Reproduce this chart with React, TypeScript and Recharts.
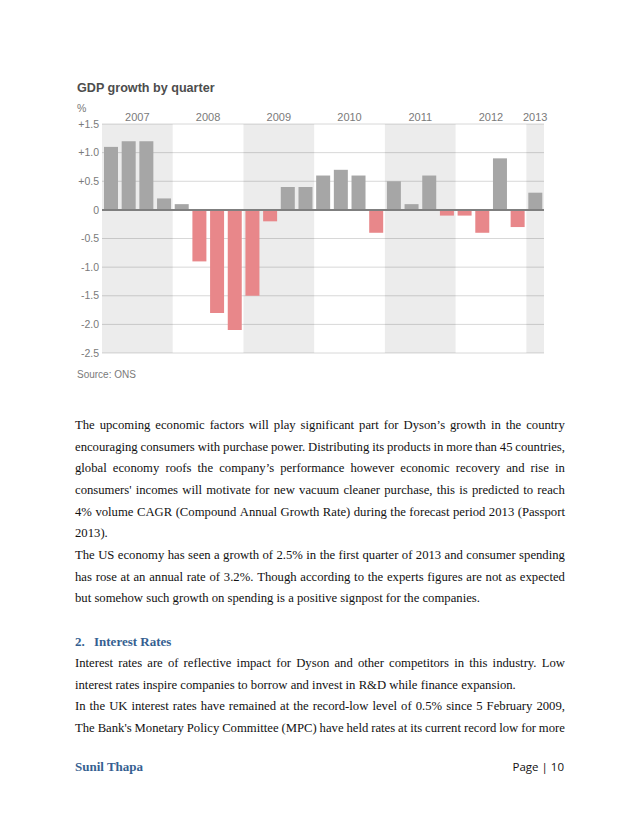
import React from "react";
import {
  BarChart,
  Bar,
  XAxis,
  YAxis,
  CartesianGrid,
  ReferenceArea,
  ReferenceLine,
  Cell,
} from "recharts";

// GDP growth by quarter (%)
const quarters = [
  "2007 Q1", "2007 Q2", "2007 Q3", "2007 Q4",
  "2008 Q1", "2008 Q2", "2008 Q3", "2008 Q4",
  "2009 Q1", "2009 Q2", "2009 Q3", "2009 Q4",
  "2010 Q1", "2010 Q2", "2010 Q3", "2010 Q4",
  "2011 Q1", "2011 Q2", "2011 Q3", "2011 Q4",
  "2012 Q1", "2012 Q2", "2012 Q3", "2012 Q4",
  "2013 Q1",
];
const growth = [
  1.1, 1.2, 1.2, 0.2,
  0.1, -0.9, -1.8, -2.1,
  -1.5, -0.2, 0.4, 0.4,
  0.6, 0.7, 0.6, -0.4,
  0.5, 0.1, 0.6, -0.1,
  -0.1, -0.4, 0.9, -0.3,
  0.3,
];
const years = ["2007", "2008", "2009", "2010", "2011", "2012", "2013"];
const quartersPerYear = [4, 4, 4, 4, 4, 4, 1];
const shadedYears = ["2007", "2009", "2011", "2013"];
const yTicks = [1.5, 1, 0.5, 0, -0.5, -1, -1.5, -2, -2.5];

const paragraphOne = [
  "The upcoming economic factors will play significant part for Dyson\u2019s growth in the country",
  "encouraging consumers with purchase power. Distributing its products in more than 45 countries,",
  "global economy roofs the company\u2019s performance however economic recovery and rise in",
  "consumers' incomes will motivate for new vacuum cleaner purchase, this is predicted to reach",
  "4% volume CAGR (Compound Annual Growth Rate) during the forecast period 2013 (Passport",
  "2013).",
  "The US economy has seen a growth of 2.5% in the first quarter of 2013 and consumer spending",
  "has rose at an annual rate of 3.2%. Though according to the experts figures are not as expected",
  "but somehow such growth on spending is a positive signpost for the companies.",
];
const paragraphOneLast = [5, 8];

const paragraphTwo = [
  "Interest rates are of reflective impact for Dyson and other competitors in this industry. Low",
  "interest rates inspire companies to borrow and invest in R&D while finance expansion.",
  "In the UK interest rates have remained at the record-low level of 0.5% since 5 February 2009,",
  "The Bank's Monetary Policy Committee (MPC) have held rates at its current record low for more",
];
const paragraphTwoLast = [1];

// pos = middle of each quarter's slot on a 0..n scale, used by the year axis
const data = quarters.map((q, i) => ({ q, v: growth[i], pos: i + 0.5 }));
const totalQuarters = quarters.length;

const yearStarts = quartersPerYear.map((_, i) =>
  quartersPerYear.slice(0, i).reduce((a, b) => a + b, 0)
);
const yearCenters = yearStarts.map((s, i) => s + quartersPerYear[i] / 2);

const fmtY = (v: number) => (v > 0 ? "+" + v.toFixed(1) : v === 0 ? "0" : v.toFixed(1));

const LINE_H = 21.65;
const serif = "'Liberation Serif', 'Times New Roman', serif";
const sans = "'Liberation Sans', Arial, sans-serif";

function TextLine({ text, top, last }: { text: string; top: number; last: boolean }) {
  const base: React.CSSProperties = {
    position: "absolute",
    left: 75,
    width: 490,
    top: top - LINE_H / 2,
    height: LINE_H,
    lineHeight: LINE_H + "px",
    fontFamily: serif,
    fontSize: 12.7,
    color: "#111",
    whiteSpace: "nowrap",
  };
  if (last) return <div style={base}>{text}</div>;
  // justified line: spread the words over the full width
  return (
    <div style={{ ...base, display: "flex", justifyContent: "space-between", columnGap: 2.5 }}>
      {text.split(" ").map((w, i) => (
        <span key={i}>{w}</span>
      ))}
    </div>
  );
}

export default function App() {
  return (
    <div
      style={{
        position: "absolute",
        left: 0,
        top: 0,
        width: 638,
        height: 826,
        background: "#fff",
        overflow: "hidden",
      }}
    >
      <div
        style={{
          position: "absolute",
          left: 77,
          top: 81,
          fontFamily: sans,
          fontWeight: 700,
          fontSize: 12.6,
          color: "#4d4d4d",
        }}
      >
        GDP growth by quarter
      </div>
      <div
        style={{
          position: "absolute",
          left: 77,
          top: 102,
          fontFamily: sans,
          fontSize: 10.5,
          color: "#777",
        }}
      >
        %
      </div>

      <div style={{ position: "absolute", left: 0, top: 0 }}>
        <BarChart
          width={638}
          height={380}
          data={data}
          margin={{ top: 104, right: 94, bottom: 27, left: 62 }}
          barSize={14}
        >
          <XAxis xAxisId="q" dataKey="q" hide />
          <XAxis
            xAxisId="yr"
            dataKey="pos"
            type="number"
            domain={[0, totalQuarters]}
            allowDataOverflow
            orientation="top"
            ticks={yearCenters}
            tickFormatter={(v: number) => years[yearCenters.indexOf(v)]}
            height={20}
            axisLine={false}
            tickLine={false}
            tickSize={0}
            tickMargin={3}
            interval={0}
            tick={{ fill: "#7a7a7a", fontSize: 11, fontFamily: sans }}
          />
          <YAxis
            domain={[-2.5, 1.5]}
            ticks={yTicks}
            tickFormatter={fmtY}
            width={40}
            axisLine={false}
            tickLine={false}
            tickSize={0}
            tickMargin={3}
            interval={0}
            tick={{ fill: "#7a7a7a", fontSize: 10.5, fontFamily: sans }}
          />
          {years.map((y, i) =>
            shadedYears.includes(y) ? (
              <ReferenceArea
                key={y}
                xAxisId="q"
                x1={quarters[yearStarts[i]]}
                x2={quarters[yearStarts[i] + quartersPerYear[i] - 1]}
                fill="#000"
                fillOpacity={0.075}
                stroke="none"
              />
            ) : null
          )}
          <CartesianGrid vertical={false} stroke="#d8d8d8" xAxisId="q" />
          <Bar dataKey="v" xAxisId="q" isAnimationActive={false}>
            {data.map((d) => (
              <Cell key={d.q} fill={d.v < 0 ? "#e8878a" : "#a6a6a6"} />
            ))}
          </Bar>
          <ReferenceLine y={0} xAxisId="q" stroke="#7f7f7f" strokeWidth={2} />
        </BarChart>
      </div>

      <div
        style={{
          position: "absolute",
          left: 77,
          top: 369,
          fontFamily: sans,
          fontSize: 10,
          color: "#7a7a7a",
        }}
      >
        Source: ONS
      </div>

      {paragraphOne.map((t, i) => (
        <TextLine key={"a" + i} text={t} top={426 + i * LINE_H} last={paragraphOneLast.includes(i)} />
      ))}

      <div
        style={{
          position: "absolute",
          left: 75,
          top: 642 - LINE_H / 2,
          lineHeight: LINE_H + "px",
          fontFamily: serif,
          fontWeight: 700,
          fontSize: 13,
          color: "#365f91",
          whiteSpace: "nowrap",
        }}
      >
        <span style={{ display: "inline-block", width: 19 }}>2.</span>Interest Rates
      </div>

      {paragraphTwo.map((t, i) => (
        <TextLine key={"b" + i} text={t} top={664 + i * LINE_H} last={paragraphTwoLast.includes(i)} />
      ))}

      <div
        style={{
          position: "absolute",
          left: 75,
          top: 767 - LINE_H / 2,
          lineHeight: LINE_H + "px",
          fontFamily: serif,
          fontWeight: 700,
          fontSize: 13,
          color: "#365f91",
        }}
      >
        Sunil Thapa
      </div>
      <div
        style={{
          position: "absolute",
          right: 638 - 564,
          top: 767 - LINE_H / 2,
          lineHeight: LINE_H + "px",
          fontFamily: "'Open Sans', 'Liberation Sans', sans-serif",
          fontSize: 11.5,
          color: "#111",
        }}
      >
        Page | 10
      </div>
    </div>
  );
}
